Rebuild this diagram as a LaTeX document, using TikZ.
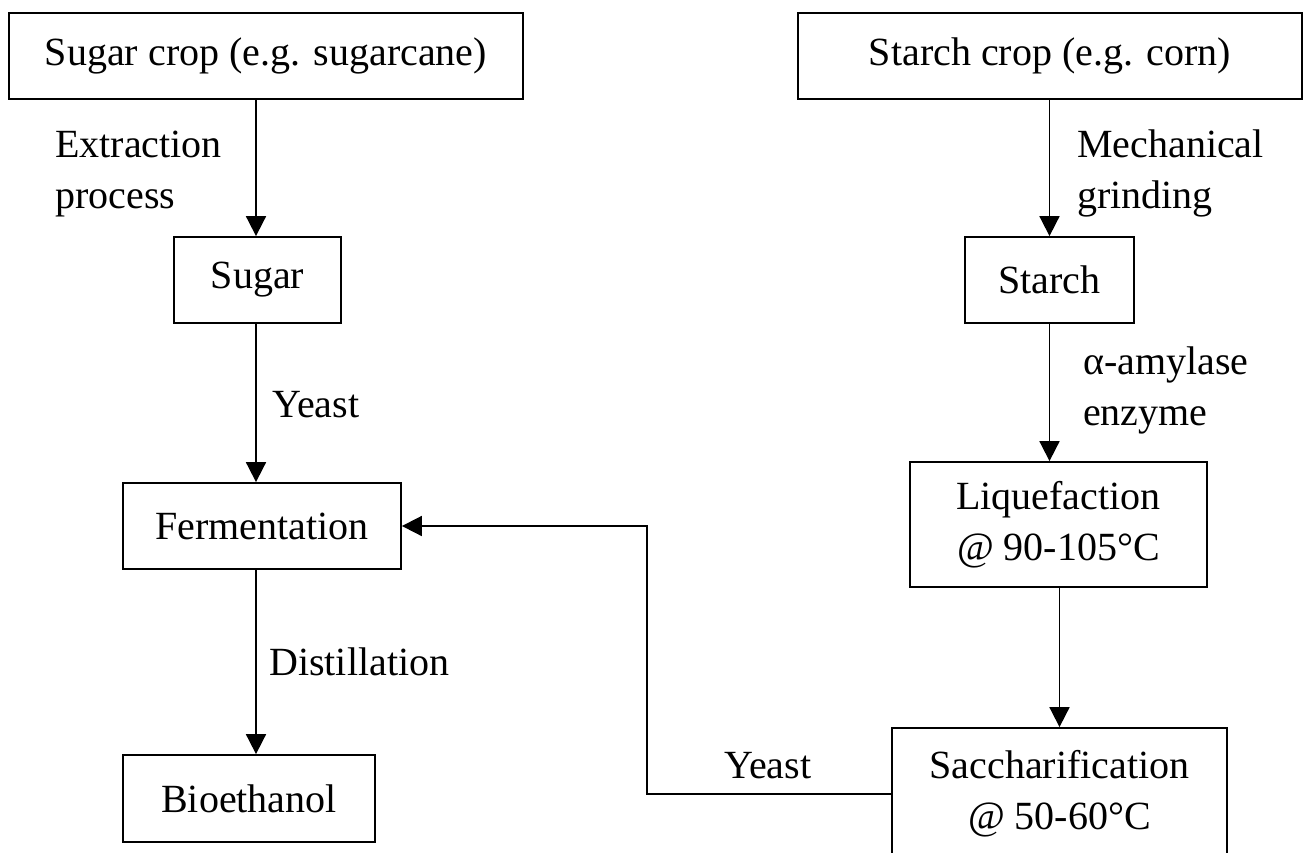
\documentclass[tikz,border=0pt]{standalone}
\usepackage{fontspec}
\setmainfont{Liberation Serif}
\usetikzlibrary{arrows.meta}
\begin{document}
\begin{tikzpicture}[x=1pt,y=-1pt,
  txt/.style={font=\fontsize{40}{51}\selectfont},
  box/.style={txt, draw, line width=1.8pt, inner sep=0pt, align=center},
  lbl/.style={txt, inner sep=0pt, anchor=base west, align=left},
  arr/.style={line width=1.8pt, -{Triangle[length=20pt,width=20pt]}}]
\clip (0,0) rectangle (1312,852);
\useasboundingbox (0,0) rectangle (1312,852);

% sugar route (left column)
\node[box, minimum width=514pt, minimum height=86pt] (sugcrop) at (266,56) {Sugar crop (e.g. sugarcane)};
\node[box, minimum width=167pt, minimum height=86pt] (sugar) at (257.5,280) {Sugar};
\node[box, minimum width=278pt, minimum height=86pt] (ferm) at (262,526) {Fermentation};
\node[box, minimum width=252pt, minimum height=87pt] (bio) at (249,798.5) {Bioethanol};
\coordinate (lcol) at (256,0);

% starch route (right column)
\node[box, minimum width=504pt, minimum height=86pt] (stcrop) at (1050,56) {Starch crop (e.g. corn)};
\node[box, minimum width=169pt, minimum height=86pt] (starch) at (1049.5,280) {Starch};
\node[box, minimum width=297pt, minimum height=125pt] (liq) at (1058.5,524.5) {Liquefaction\\@ 90-105°C};
\node[box, minimum width=335pt, minimum height=132pt, yshift=-1pt] (sacch) at (1059.5,793) {Saccharification\\@ 50-60°C};
\coordinate (bend) at (647,660);

% step labels (anchored on the baseline of their last line)
\node[lbl] (l1) at (55,208) {Extraction\\process};
\node[lbl] (l2) at (272,417) {Yeast};
\node[lbl] (l3) at (269,675) {Distillation};
\node[lbl] (l4) at (1077,208) {Mechanical\\grinding};
\node[lbl] (l5) at (1083,425) {α-amylase\\enzyme};
\node[lbl] (l6) at (724,778) {Yeast};

% connectors
\draw[arr] (lcol |- sugcrop.south) -- (lcol |- sugar.north);
\draw[arr] (lcol |- sugar.south) -- (lcol |- ferm.north);
\draw[arr] (lcol |- ferm.south) -- (lcol |- bio.north);
\draw[arr] (starch.north |- stcrop.south) -- (starch.north);
\draw[arr] (starch.south) -- (starch.south |- liq.north);
\draw[arr] (sacch.north |- liq.south) -- (sacch.north);
\draw[arr] (sacch.west) -| (bend) |- (ferm.east);
\end{tikzpicture}
\end{document}
